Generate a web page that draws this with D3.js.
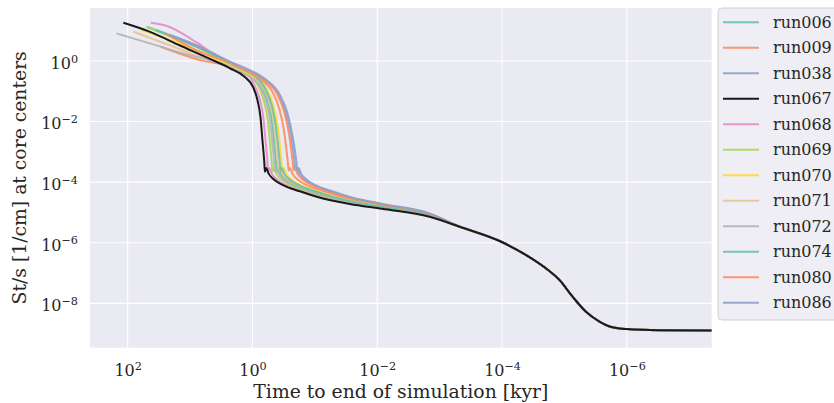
<!DOCTYPE html>
<html><head><meta charset="utf-8">
<script src="https://cdn.jsdelivr.net/npm/d3@7"></script>
<style>
body{margin:0;background:#fff}
svg{display:block}
text{font-family:"DejaVu Serif",serif;fill:#262626}
</style>
</head><body>
<svg id="chart" width="834" height="403"></svg>
<script>
// ---------- data (time to end [kyr], St/s [1/cm]) ----------
const runNames  = ["run006","run009","run038","run067","run068","run069","run070","run071","run072","run074","run080","run086"];
const runColors = ["#66c2a5","#fc8d62","#8da0cb","#1a1a1a","#e78ac3","#a6d854","#ffd92f","#e5c494","#b3b3b3","#66c2a5","#fc8d62","#8da0cb"];

const run006 = [[47.9,13.2],[18.2,6.31],[6.92,2.75],[2.29,0.794],[1.51,0.525],[0.991,0.331],[0.676,0.112],[0.553,0.0372],[0.482,8.71e-3],[0.447,1.91e-3],[0.419,4.57e-4],[0.407,2.29e-4],[0.389,2.95e-4],[0.355,1.91e-4],[0.302,1.29e-4],[0.209,7.94e-5],[0.112,5.01e-5],[0.0603,3.31e-5],[0.0178,1.91e-5],[8.32e-3,1.48e-5],[1.45e-3,7.94e-6]];
const run009 = [[29.5,2.95],[6.92,1.07],[2.29,0.661],[1.32,0.398],[0.759,0.245],[0.471,0.0912],[0.370,0.0257],[0.314,5.37e-3],[0.288,1.41e-3],[0.271,4.57e-4],[0.263,2.40e-4],[0.251,2.95e-4],[0.229,1.91e-4],[0.195,1.29e-4],[0.135,7.94e-5],[0.0724,5.01e-5],[0.0389,3.31e-5],[0.0115,1.91e-5],[1.45e-3,8.71e-6]];
const run038 = [[33.1,9.77],[6.92,2.95],[2.29,0.933],[1.23,0.501],[0.652,0.251],[0.383,0.0794],[0.293,0.0204],[0.245,3.98e-3],[0.224,1.20e-3],[0.211,4.47e-4],[0.204,2.51e-4],[0.195,2.95e-4],[0.178,1.91e-4],[0.151,1.29e-4],[0.105,7.94e-5],[0.0562,5.01e-5],[0.0302,3.31e-5],[8.91e-3,1.91e-5],[1.45e-3,9.12e-6]];
const run067 = [[117,18.2],[43.7,9.12],[14.5,3.24],[4.79,1.17],[2.29,0.575],[1.32,0.295],[0.977,0.138],[0.832,0.0513],[0.741,0.0132],[0.692,2.45e-3],[0.646,4.68e-4],[0.631,2.19e-4],[0.603,2.95e-4],[0.550,1.91e-4],[0.468,1.29e-4],[0.324,7.94e-5],[0.174,5.01e-5],[0.0933,3.31e-5],[0.0275,1.91e-5],[8.32e-3,1.32e-5],[1.45e-3,7.24e-6]];
const run068 = [[42.7,18.2],[24.0,14.5],[7.94,4.17],[2.29,0.676],[1.23,0.389],[0.891,0.129],[0.748,0.0468],[0.662,0.0115],[0.617,2.29e-3],[0.575,4.68e-4],[0.562,2.24e-4],[0.537,2.95e-4],[0.490,1.91e-4],[0.417,1.29e-4],[0.288,7.94e-5],[0.155,5.01e-5],[0.0832,3.31e-5],[0.0245,1.91e-5],[8.32e-3,1.35e-5],[1.45e-3,7.41e-6]];
const run069 = [[50.1,13.5],[17.4,5.62],[6.92,2.51],[2.29,0.759],[1.58,0.525],[1.10,0.347],[0.773,0.123],[0.643,0.0417],[0.565,0.0102],[0.525,2.09e-3],[0.491,4.68e-4],[0.479,2.24e-4],[0.457,2.95e-4],[0.417,1.91e-4],[0.355,1.29e-4],[0.245,7.94e-5],[0.132,5.01e-5],[0.0708,3.31e-5],[0.0209,1.91e-5],[8.32e-3,1.41e-5],[1.45e-3,7.59e-6]];
const run070 = [[60.3,10.5],[20.0,4.79],[6.92,2.04],[2.29,0.724],[1.41,0.447],[0.871,0.263],[0.569,0.102],[0.457,0.0309],[0.394,6.92e-3],[0.363,1.66e-3],[0.341,4.57e-4],[0.331,2.34e-4],[0.316,2.95e-4],[0.288,1.91e-4],[0.245,1.29e-4],[0.170,7.94e-5],[0.0912,5.01e-5],[0.0490,3.31e-5],[0.0145,1.91e-5],[8.32e-3,1.55e-5],[1.45e-3,8.13e-6]];
const run071 = [[81.3,9.33],[24.0,3.63],[6.92,1.38],[2.29,0.661],[1.48,0.427],[0.946,0.263],[0.637,0.110],[0.519,0.0355],[0.451,8.13e-3],[0.417,1.82e-3],[0.391,4.57e-4],[0.380,2.29e-4],[0.363,2.95e-4],[0.331,1.91e-4],[0.282,1.29e-4],[0.195,7.94e-5],[0.105,5.01e-5],[0.0562,3.31e-5],[0.0166,1.91e-5],[8.32e-3,1.51e-5],[1.45e-3,7.94e-6]];
const run072 = [[151,8.13],[12.9,1.78],[2.29,0.631],[1.55,0.427],[1.04,0.275],[0.716,0.117],[0.590,0.0389],[0.516,9.12e-3],[0.479,1.95e-3],[0.448,4.57e-4],[0.437,2.29e-4],[0.417,2.95e-4],[0.380,1.91e-4],[0.324,1.29e-4],[0.224,7.94e-5],[0.120,5.01e-5],[0.0646,3.31e-5],[0.0191,1.91e-5],[8.32e-3,1.45e-5],[1.45e-3,7.76e-6]];
const run074 = [[35.5,10.5],[15.8,5.37],[6.92,2.63],[2.29,0.832],[1.45,0.525],[0.912,0.316],[0.603,0.105],[0.488,0.0331],[0.422,7.41e-3],[0.389,1.74e-3],[0.365,4.57e-4],[0.355,2.34e-4],[0.339,2.95e-4],[0.309,1.91e-4],[0.263,1.29e-4],[0.182,7.94e-5],[0.0977,5.01e-5],[0.0525,3.31e-5],[0.0155,1.91e-5],[8.32e-3,1.55e-5],[1.45e-3,8.13e-6]];
const run080 = [[24.0,7.76],[6.92,2.00],[2.29,0.851],[1.26,0.468],[0.676,0.234],[0.405,0.0832],[0.312,0.0219],[0.262,4.37e-3],[0.240,1.26e-3],[0.226,4.47e-4],[0.219,2.45e-4],[0.209,2.95e-4],[0.191,1.91e-4],[0.162,1.29e-4],[0.112,7.94e-5],[0.0603,5.01e-5],[0.0324,3.31e-5],[9.55e-3,1.91e-5],[1.45e-3,8.91e-6]];
const run086 = [[20.9,7.24],[6.92,2.82],[2.29,0.955],[1.10,0.501],[0.631,0.257],[0.363,0.0759],[0.275,0.0191],[0.229,3.63e-3],[0.209,1.12e-3],[0.197,4.47e-4],[0.191,2.40e-4],[0.182,2.95e-4],[0.166,1.91e-4],[0.141,1.29e-4],[0.0977,7.94e-5],[0.0525,5.01e-5],[0.0282,3.31e-5],[8.32e-3,1.91e-5],[1.45e-3,9.33e-6]];
// late-time evolution shared by all runs (curves coincide)
const sharedTail = [[4.79e-4,3.39e-6],[1.05e-4,1.10e-6],[4.17e-5,3.98e-7],[2.00e-5,1.45e-7],[1.20e-5,5.89e-8],[7.41e-6,1.66e-8],[4.57e-6,5.37e-9],[2.75e-6,2.51e-9],[1.70e-6,1.62e-9],[1.00e-6,1.41e-9],[3.02e-7,1.29e-9],[4.37e-8,1.26e-9]];

const xTickValues = [1e2,1e0,1e-2,1e-4,1e-6];
const xTickExps   = ["2","0","\u22122","\u22124","\u22126"];
const yTickValues = [1e0,1e-2,1e-4,1e-6,1e-8];
const yTickExps   = ["0","\u22122","\u22124","\u22126","\u22128"];
const xLabel = "Time to end of simulation [kyr]";
const yLabel = "St/s [1/cm] at core centers";

const runSeries = [run006,run009,run038,run067,run068,run069,run070,run071,run072,run074,run080,run086];

// ---------- layout ----------
const svg = d3.select("#chart");
const L = 90, R = 711.7, T = 8, B = 347.7;
const x = d3.scaleLog().domain([401, 4.37e-8]).range([L, R]);
const y = d3.scaleLog().domain([3.43e-10, 56.1]).range([B, T]);

svg.append("rect").attr("x",L).attr("y",T).attr("width",R-L).attr("height",B-T).attr("fill","#eaeaf2");

// grid
const grid = svg.append("g");
grid.selectAll("line.gx").data(xTickValues).join("line")
  .attr("x1",d=>x(d)).attr("x2",d=>x(d)).attr("y1",T).attr("y2",B)
  .attr("stroke","#fff").attr("stroke-width",1.1);
grid.selectAll("line.gy").data(yTickValues).join("line")
  .attr("y1",d=>y(d)).attr("y2",d=>y(d)).attr("x1",L).attr("x2",R)
  .attr("stroke","#fff").attr("stroke-width",1.1);

// axes (ticks hidden, labels as 10^n)
const xAxis = svg.append("g").attr("transform",`translate(0,${B})`)
  .call(d3.axisBottom(x).tickValues(xTickValues).tickSize(0).tickFormat(""));
xAxis.select(".domain").remove();
xAxis.selectAll(".tick").each(function(d,i){
  const t = d3.select(this).append("text").attr("y",28.3).attr("text-anchor","middle")
    .attr("font-size",16);
  t.append("tspan").text("10");
  t.append("tspan").attr("font-size",11.2).attr("dy",-6.2).text(xTickExps[i]);
});
const yAxis = svg.append("g").attr("transform",`translate(${L},0)`)
  .call(d3.axisLeft(y).tickValues(yTickValues).tickSize(0).tickFormat(""));
yAxis.select(".domain").remove();
yAxis.selectAll(".tick").each(function(d,i){
  const t = d3.select(this).append("text").attr("x",-12).attr("y",7.3).attr("text-anchor","end")
    .attr("font-size",16);
  t.append("tspan").text("10");
  t.append("tspan").attr("font-size",11.2).attr("dy",-6.2).text(yTickExps[i]);
});

svg.append("text").attr("x",(L+R)/2).attr("y",398).attr("text-anchor","middle")
  .attr("font-size",18.8).text(xLabel);
svg.append("text").attr("transform",`translate(26,${(T+B)/2}) rotate(-90)`)
  .attr("text-anchor","middle").attr("font-size",18.8).text(yLabel);

// lines
svg.append("clipPath").attr("id","clip").append("rect")
  .attr("x",L).attr("y",T).attr("width",R-L).attr("height",B-T);
const line = d3.line().x(d=>x(d[0])).y(d=>y(d[1])).curve(d3.curveMonotoneX);
const order = runNames.map((n,i)=>i).filter(i=>runNames[i]!=="run067").concat([runNames.indexOf("run067")]);
const lg = svg.append("g").attr("clip-path","url(#clip)");
order.forEach(i=>{
  lg.append("path").datum(runSeries[i].concat(sharedTail))
    .attr("d",line).attr("fill","none")
    .attr("stroke",runColors[i]).attr("stroke-width",2)
    .attr("stroke-opacity", runNames[i]==="run067"?1:0.9)
    .attr("stroke-linejoin","round");
});

// legend
const leg = svg.append("g");
leg.append("rect").attr("x",718).attr("y",8).attr("width",140).attr("height",312)
  .attr("rx",4).attr("fill","#eeeef4").attr("stroke","#d0d0d0").attr("stroke-width",1);
const rows = leg.selectAll("g.row").data(runNames).join("g")
  .attr("transform",(d,i)=>`translate(0,${22.3 + i*25.49})`);
rows.append("line").attr("x1",723).attr("x2",759).attr("y1",0).attr("y2",0)
  .attr("stroke",(d,i)=>runColors[i]).attr("stroke-width",2)
  .attr("stroke-opacity",(d)=>d==="run067"?1:0.9);
rows.append("text").attr("x",773).attr("y",5.3).attr("font-size",16).text(d=>d);
</script>
</body></html>
